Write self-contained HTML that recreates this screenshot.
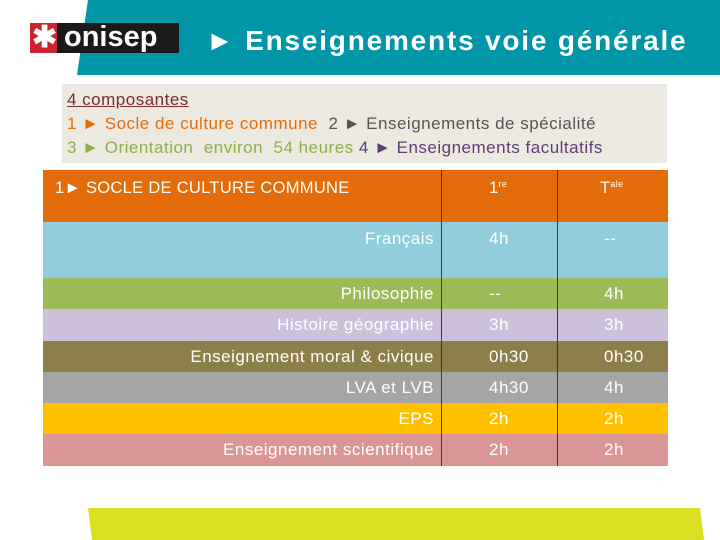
<!DOCTYPE html>
<html><head><meta charset="utf-8"><style>
body{margin:0;width:720px;height:540px;position:relative;overflow:hidden;background:#fff;font-family:"Liberation Sans",sans-serif}
.abs{position:absolute}
.row{position:absolute;left:43px;width:625px;display:flex;color:#fff;font-size:17px;letter-spacing:0.5px}
.row div{display:flex;align-items:center;box-sizing:border-box}
.c0{width:398px;justify-content:flex-end;padding-right:7px}
.c1{width:116px;border-left:1px solid #7a2020;padding-left:47px}
.c2{width:111px;border-left:1px solid #7a2020;padding-left:46px}
.ib{font-size:17px;line-height:24px;letter-spacing:0.5px}
</style></head><body>
<svg class="abs" style="left:0;top:0" width="720" height="540">
<polygon points="88,0 720,0 720,75 77,75" fill="#0096a8"/>
<polygon points="88,508 700,508 704,540 92,540" fill="#d9e021"/>
<rect x="30" y="23" width="27" height="30" fill="#c8262c"/>
<rect x="57" y="23" width="122" height="30" fill="#1a1a1a"/>
</svg>
<div class="abs" style="left:32px;top:20px;color:#fff;font-size:30px;font-weight:bold">✱</div>
<div class="abs" style="left:64px;top:21px;color:#fff;font-size:29px;font-weight:bold">onisep</div>
<div class="abs" style="left:206px;top:25px;color:#fff;font-size:28px;font-weight:bold;letter-spacing:1.8px;white-space:nowrap">► Enseignements voie générale</div>
<div class="abs ib" style="left:62px;top:84px;width:605px;height:79px;background:#ece9e1;padding:4px 0 0 5px;box-sizing:border-box;white-space:nowrap">
<div style="color:#7b2c2c;text-decoration:underline">4 composantes</div>
<div><span style="color:#e46c0a">1 ► Socle de culture commune</span>&nbsp; <span style="color:#555">2 ► Enseignements de spécialité</span></div>
<div><span style="color:#8db04a">3 ► Orientation&nbsp; environ&nbsp; 54 heures</span> <span style="color:#5e3d76">4 ► Enseignements facultatifs</span></div>
</div>
<div class="row" style="top:170px;height:52px;background:#e46c0a;font-size:16.5px;letter-spacing:0.3px">
<div class="c0" style="justify-content:flex-start;align-items:flex-start;padding:9px 0 0 12px">1► SOCLE DE CULTURE COMMUNE</div>
<div class="c1" style="align-items:flex-start;padding-top:9px">1<sup style="font-size:9px">re</sup></div>
<div class="c2" style="align-items:flex-start;padding-top:9px;padding-left:42px">T<sup style="font-size:9px">ale</sup></div>
</div>
<div id="rows"></div>
<script>
const subjects=["Français","Philosophie","Histoire géographie","Enseignement moral & civique","LVA et LVB","EPS","Enseignement scientifique"];
const premiere=["4h","--","3h","0h30","4h30","2h","2h"];
const terminale=["--","4h","3h","0h30","4h","2h","2h"];
const colors=["#92cddc","#9bbb59","#ccc0da","#8c7f4a","#a5a5a5","#ffc000","#d99694"];
const heights=[56,31,32,31,31,31,32];
let y=222;const host=document.getElementById('rows');
subjects.forEach((s,i)=>{const r=document.createElement('div');r.className='row';


r.style.top=y+'px';r.style.height=heights[i]+'px';r.style.background=colors[i];
r.innerHTML='<div class="c0">'+s+'</div><div class="c1">'+premiere[i]+'</div><div class="c2">'+terminale[i]+'</div>';
if(i===0){r.querySelectorAll('div').forEach(d=>{d.style.alignItems='flex-start';d.style.paddingTop='7px';});}
host.appendChild(r);y+=heights[i];});
</script>
</body></html>
